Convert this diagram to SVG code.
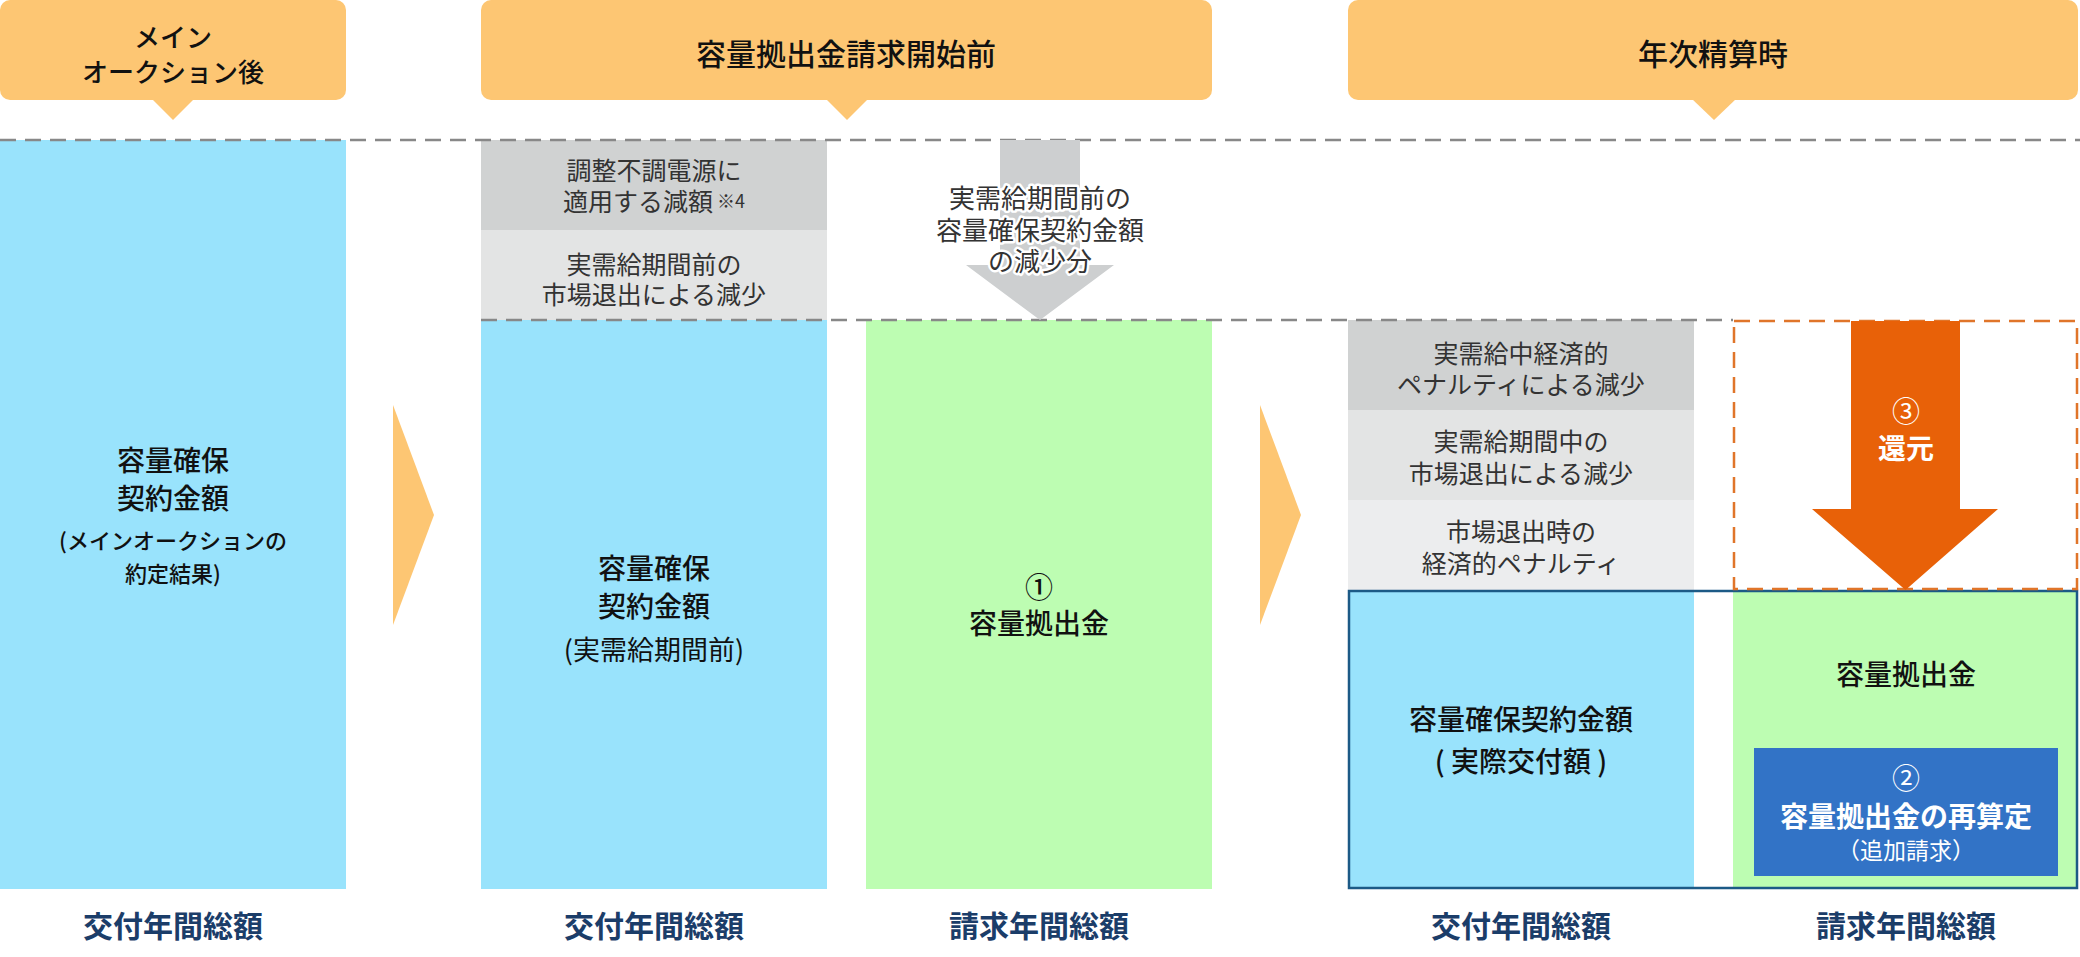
<svg xmlns="http://www.w3.org/2000/svg" width="2080" height="957" viewBox="0 0 2080 957">
<style>
text{font-family:"Noto Sans CJK JP","Noto Sans",sans-serif;text-anchor:middle;dominant-baseline:central}
.hd{font-size:30px;font-weight:500;fill:#111}
.hd1{font-size:26px;font-weight:500;fill:#111}
.mn{font-size:28px;font-weight:500;fill:#111}
.sb{font-size:22px;font-weight:500;fill:#111}
.gt{font-size:25px;font-weight:400;fill:#333}
.halo{font-size:26px;font-weight:400;fill:#333;stroke:#fff;stroke-width:5px;stroke-linejoin:round;paint-order:stroke}
.wb{font-size:28px;font-weight:700;fill:#fff}
.ws{font-size:23px;font-weight:400;fill:#fff}
.lb{font-size:30px;font-weight:700;fill:#1b3d69}
.hdr{fill:#fdc673}
.blue{fill:#99e3fc}
.green{fill:#bdfdb2}
.g1{fill:#d0d2d2}
.g2{fill:#e3e4e4}
.g3{fill:#ecedee}
.dash{stroke:#888;stroke-width:2.5;stroke-dasharray:16 9;fill:none}
</style>

<g id="header-main-auction">
<rect class="hdr" x="0" y="0" width="346" height="100" rx="10"/>
<polygon class="hdr" points="152,99 194,99 173,120"/>
<text class="hd1" x="173" y="35">メイン<tspan x="173" dy="35">オークション後</tspan></text>
</g>
<g id="header-before-billing">
<rect class="hdr" x="481" y="0" width="731" height="100" rx="10"/>
<polygon class="hdr" points="826,99 868,99 847,120"/>
<text class="hd" x="846" y="52">容量拠出金請求開始前</text>
</g>
<g id="header-annual">
<rect class="hdr" x="1348" y="0" width="730" height="100" rx="10"/>
<polygon class="hdr" points="1692,99 1736,99 1714,120"/>
<text class="hd" x="1713" y="52">年次精算時</text>
</g>

<g id="col1-contract">
<rect class="blue" x="0" y="140" width="346" height="749"/>
<text class="mn" x="173" y="459">容量確保<tspan x="173" dy="38">契約金額</tspan><tspan x="173" dy="42" font-size="22">(メインオークションの</tspan><tspan x="173" dy="33" font-size="22">約定結果)</tspan></text>
</g>

<g id="col2-contract">
<rect class="g1" x="481" y="140" width="346" height="90"/>
<rect class="g2" x="481" y="230" width="346" height="90"/>
<rect class="blue" x="481" y="320" width="346" height="569"/>
<text class="gt" x="654" y="169">調整不調電源に<tspan x="654" dy="31">適用する減額</tspan><tspan font-size="18"> ※4</tspan></text>
<text class="gt" x="654" y="263">実需給期間前の<tspan x="654" dy="30">市場退出による減少</tspan></text>
<text class="mn" x="654" y="567">容量確保<tspan x="654" dy="38">契約金額</tspan><tspan x="654" dy="43" font-size="27" font-weight="400">(実需給期間前)</tspan></text>
</g>

<g id="col3-levy">
<rect class="green" x="866" y="320" width="346" height="569"/>
<text class="mn" x="1039" y="586">①<tspan x="1039" dy="36">容量拠出金</tspan></text>
</g>

<g id="col4-contract">
<rect class="g1" x="1348" y="320" width="346" height="90"/>
<rect class="g2" x="1348" y="410" width="346" height="90"/>
<rect class="g3" x="1348" y="500" width="346" height="90"/>
<rect class="blue" x="1348" y="590" width="346" height="299"/>
<text class="gt" x="1521" y="352">実需給中経済的<tspan x="1521" dy="31">ペナルティによる減少</tspan></text>
<text class="gt" x="1521" y="440">実需給期間中の<tspan x="1521" dy="32">市場退出による減少</tspan></text>
<text class="gt" x="1521" y="530">市場退出時の<tspan x="1521" dy="32">経済的ペナルティ</tspan></text>
<text class="mn" x="1521" y="718">容量確保契約金額<tspan x="1521" dy="42">( 実際交付額 )</tspan></text>
</g>

<g id="col5-levy">
<rect class="green" x="1733" y="590" width="345" height="299"/>
<text class="mn" x="1906" y="673">容量拠出金</text>
<rect x="1754" y="748" width="304" height="128" fill="#3273c6"/>
<text class="wb" x="1906" y="777"><tspan font-weight="400">②</tspan><tspan x="1906" dy="38">容量拠出金の再算定</tspan><tspan x="1906" dy="34" font-size="23" font-weight="400">（追加請求）</tspan></text>
</g>

<g id="annual-frame">
<rect x="1349" y="591" width="728" height="297" fill="none" stroke="#1c5a86" stroke-width="2.5"/>
</g>

<g id="lines">
<line class="dash" x1="0" y1="140" x2="2080" y2="140"/>
<line class="dash" x1="481" y1="320" x2="1733" y2="320"/>
<rect x="1734" y="321" width="343" height="268" fill="none" stroke="#e0752a" stroke-width="2.5" stroke-dasharray="16 9"/>
</g>

<g id="connectors">
<polygon fill="#fdc673" points="393,405 434,515 393,625"/>
<polygon fill="#fdc673" points="1260,405 1301,515 1260,625"/>
<polygon fill="#cdcfd0" points="1000,140 1080,140 1080,265 1114,265 1040,320 966,265 1000,265"/>
<polygon fill="#e86108" points="1851,321 1960,321 1960,509 1998,509 1905.5,590 1812,509 1851,509"/>
</g>

<g id="labels">
<text class="halo" x="1040" y="196">実需給期間前の<tspan x="1040" dy="32">容量確保契約金額</tspan><tspan x="1040" dy="31">の減少分</tspan></text>
<text class="wb" x="1906" y="410"><tspan font-weight="400">③</tspan><tspan x="1906" dy="37">還元</tspan></text>
<text class="lb" x="173" y="924">交付年間総額</text>
<text class="lb" x="654" y="924">交付年間総額</text>
<text class="lb" x="1039" y="924">請求年間総額</text>
<text class="lb" x="1521" y="924">交付年間総額</text>
<text class="lb" x="1906" y="924">請求年間総額</text>
</g>
</svg>
